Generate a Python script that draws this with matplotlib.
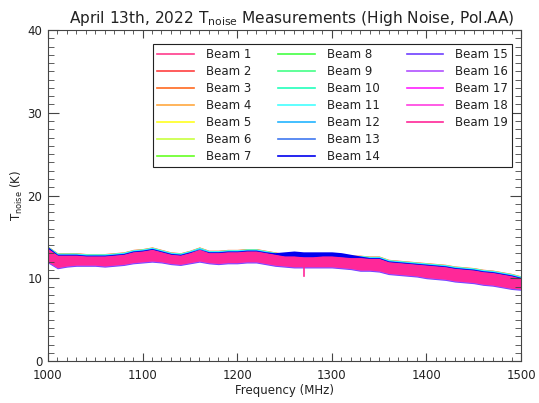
import matplotlib
matplotlib.use("Agg")
import matplotlib.pyplot as plt
from matplotlib.lines import Line2D
from matplotlib.ticker import MultipleLocator
import numpy as np

# Frequency grid (MHz) and band envelopes (K)
freq_mhz = np.arange(1000, 1501, 10)

beam19_upper = [13.6, 12.8, 12.8, 12.8, 12.7, 12.7, 12.7, 12.8, 12.9, 13.2,
                13.3, 13.5, 13.2, 12.9, 12.8, 13.1, 13.5, 13.1, 13.1, 13.2,
                13.2, 13.3, 13.3, 13.1, 12.9, 12.7, 12.7, 12.6, 12.6, 12.7,
                12.7, 12.6, 12.5, 12.5, 12.4, 12.4, 12.0, 11.9, 11.8, 11.7,
                11.6, 11.5, 11.4, 11.2, 11.1, 11.0, 10.8, 10.7, 10.5, 10.3,
                10.0]

beam19_lower = [12.0, 11.3, 11.5, 11.6, 11.6, 11.6, 11.5, 11.6, 11.7, 11.9,
                12.0, 12.1, 12.0, 11.8, 11.7, 11.9, 12.1, 11.9, 11.8, 11.9,
                11.9, 12.0, 12.0, 11.8, 11.6, 11.5, 11.4, 11.4, 11.4, 11.4,
                11.4, 11.3, 11.2, 11.0, 11.0, 10.9, 10.6, 10.5, 10.4, 10.3,
                10.1, 10.0, 9.9, 9.7, 9.6, 9.5, 9.3, 9.2, 9.0, 8.8,
                8.7]

# beam 14 stands out above the rest between 1240 and 1330 MHz
beam14_upper = [13.8, 12.9, 12.9, 12.9, 12.8, 12.8, 12.8, 12.9, 13.0, 13.3,
                13.4, 13.6, 13.3, 13.0, 12.9, 13.2, 13.5, 13.2, 13.2, 13.3,
                13.3, 13.4, 13.4, 13.2, 13.1, 13.2, 13.3, 13.2, 13.2, 13.2,
                13.2, 13.1, 12.9, 12.7, 12.5, 12.5, 12.1, 12.0, 11.9, 11.8,
                11.7, 11.6, 11.5, 11.3, 11.2, 11.1, 10.9, 10.8, 10.6, 10.4,
                10.1]

# shift of each beam's band relative to beam 19 (K); beam 14 uses its own top
beam_offsets = [0.1, 0.2, 0.3, 0.2, 0.1, 0.25, 0.0, 0.2, 0.15, 0.2,
                0.25, 0.15, 0.05, 0.0, -0.3, -0.2, -0.1, -0.05]

beam_labels = [f"Beam {i}" for i in range(1, 20)]
beam_colors = ["#ff3c8c", "#ff4040", "#ff6a20", "#ffa840", "#ffff20",
               "#c8ff40", "#66ff22", "#44ff44", "#44ff88", "#22ffbb",
               "#44ffff", "#22b4ff", "#4078f0", "#0000ee", "#7040ff",
               "#b050ff", "#ff20ff", "#ff40e0", "#ff2898"]

# glitches of beam 19
start_value = 0.0
spike_freq = 1270.5
spike_low = 10.3

up19 = np.array(beam19_upper)
lo19 = np.array(beam19_lower)

fig = plt.figure(figsize=(5.39, 4.03), dpi=100)
ax = fig.add_axes([0.089, 0.104, 0.8776, 0.8216])

for i, off in enumerate(beam_offsets):
    if i == 13:
        ax.fill_between(freq_mhz, lo19 + 0.15, beam14_upper,
                        color=beam_colors[i], lw=0)
    else:
        ax.fill_between(freq_mhz, lo19 + 0.15 + off, up19 + off,
                        color=beam_colors[i], lw=0)

ax.fill_between(freq_mhz, lo19, up19, color=beam_colors[18], lw=0)
ax.plot([freq_mhz[0], freq_mhz[0]], [start_value, beam19_lower[0]],
        color=beam_colors[18], lw=1.2)
k = np.searchsorted(freq_mhz, spike_freq)
ax.plot([spike_freq, spike_freq], [spike_low, beam19_lower[k]],
        color=beam_colors[18], lw=1.2)

ax.set_xlim(1000, 1500)
ax.set_ylim(0, 40)
ax.xaxis.set_major_locator(MultipleLocator(100))
ax.xaxis.set_minor_locator(MultipleLocator(10))
ax.yaxis.set_major_locator(MultipleLocator(10))
ax.yaxis.set_minor_locator(MultipleLocator(1))

text_color = "#222222"
ax.tick_params(which="both", direction="in", top=True, right=True,
               colors="#444444", labelcolor=text_color, labelsize=8.5)
ax.tick_params(axis="x", which="major", length=6, pad=6)
ax.tick_params(axis="x", which="minor", length=3)
ax.tick_params(axis="y", which="major", length=8, pad=4)
ax.tick_params(axis="y", which="minor", length=4)
for spine in ax.spines.values():
    spine.set_color("#444444")

ax.set_xlabel("Frequency (MHz)", fontsize=8.5, color=text_color, labelpad=1)
ax.set_ylabel(r"T$_{\mathrm{noise}}$ (K)", fontsize=8.5, color=text_color, labelpad=2)
ax.set_title(r"April 13th, 2022 T$_{\mathrm{noise}}$ Measurements (High Noise, Pol.AA)",
             fontsize=11.1, color=text_color, pad=5, x=0.515)

# 7 rows per column as in the original; two empty slots close the last column
handles = [Line2D([], [], color=c, lw=1.2) for c in beam_colors]
handles += [Line2D([], [], color="none") for _ in range(2)]
labels = beam_labels + ["", ""]
leg = ax.legend(handles, labels, ncol=3, loc="upper right",
                bbox_to_anchor=(0.981, 0.958), borderaxespad=0, fontsize=8.5,
                frameon=True, fancybox=False, edgecolor="#222222", framealpha=1,
                handlelength=3.1, handletextpad=1.0, columnspacing=2.3,
                labelspacing=0.34, borderpad=0.35)
leg.get_frame().set_linewidth(0.8)
for t in leg.get_texts():
    t.set_color(text_color)

fig.savefig("out.png", dpi=100)
